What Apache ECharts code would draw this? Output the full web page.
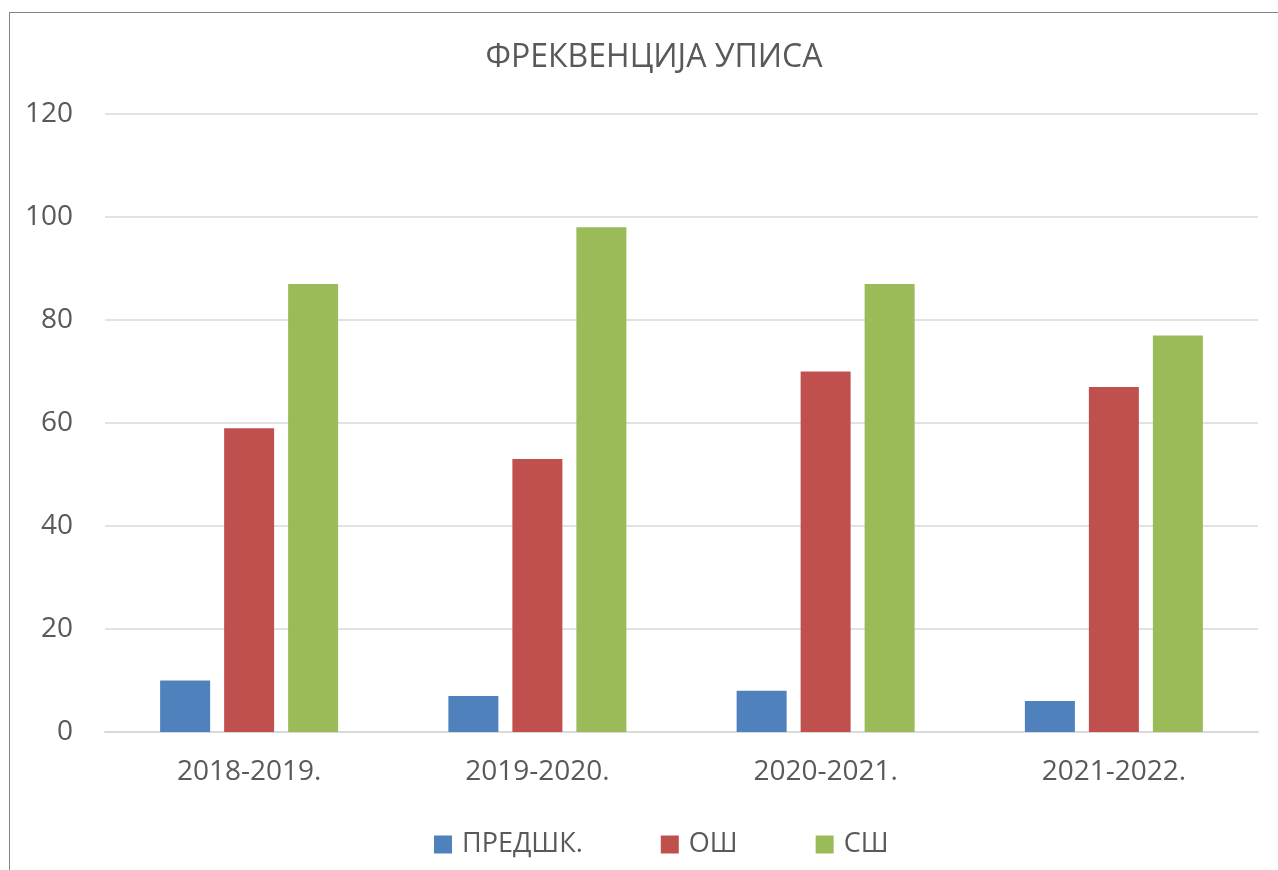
<html lang="sr">
<head>
<meta charset="utf-8">
<title>ФРЕКВЕНЦИЈА УПИСА</title>
<script src="https://cdn.jsdelivr.net/npm/echarts@6/dist/echarts.min.js"></script>
<style>
  html, body { margin: 0; padding: 0; background: #fff; }
  #frame { position: absolute; left: 9px; top: 12px; width: 1300px; height: 900px;
           border-left: 1.5px solid #858585; border-top: 1.5px solid #858585; }
  #chart { position: absolute; left: 0; top: 0; width: 1278px; height: 870px; }
</style>
</head>
<body>
<div id="frame"></div>
<div id="chart"></div>
<script>
var categories = ['2018-2019.', '2019-2020.', '2020-2021.', '2021-2022.'];
var seriesNames = ['ПРЕДШК.', 'ОШ', 'СШ'];
var preschool = [10, 7, 8, 6];
var primary = [59, 53, 70, 67];
var secondary = [87, 98, 87, 77];
var colors = ['#4f81bd', '#c0504d', '#9bbb59'];

var font = '"Open Sans", "Noto Sans", sans-serif';
var chart = echarts.init(document.getElementById('chart'));

var values = [preschool, primary, secondary];
var series = [];
for (var i = 0; i < seriesNames.length; i++) {
  series.push({
    name: seriesNames[i],
    type: 'bar',
    data: values[i],
    barWidth: 50,
    barGap: '28%',
    itemStyle: { color: colors[i] }
  });
}

chart.setOption({
  animation: false,
  color: colors,
  title: {
    text: 'ФРЕКВЕНЦИЈА УПИСА',
    left: 649, top: 37,
    textAlign: 'center',
    textStyle: { fontFamily: font, fontSize: 32, fontWeight: 'normal', color: '#595959' }
  },
  legend: {
    data: seriesNames,
    left: 429, top: 826,
    itemWidth: 18, itemHeight: 18, itemGap: 78,
    icon: 'rect',
    textStyle: { fontFamily: font, fontSize: 27, color: '#595959', padding: [0, 0, 0, 5] }
  },
  grid: { left: 105, right: 20, top: 114, bottom: 138, containLabel: false },
  xAxis: {
    type: 'category',
    data: categories,
    axisTick: { show: false },
    axisLine: { lineStyle: { color: '#d9d9d9', width: 2 } },
    axisLabel: { fontFamily: font, fontSize: 28, color: '#595959', margin: 26 }
  },
  yAxis: {
    type: 'value',
    min: 0, max: 120, interval: 20,
    axisLine: { show: false },
    axisTick: { show: false },
    splitLine: { lineStyle: { color: '#d9d9d9', width: 1.5 } },
    axisLabel: { fontFamily: font, fontSize: 28, color: '#595959', margin: 32 }
  },
  series: series
});
</script>
</body>
</html>
